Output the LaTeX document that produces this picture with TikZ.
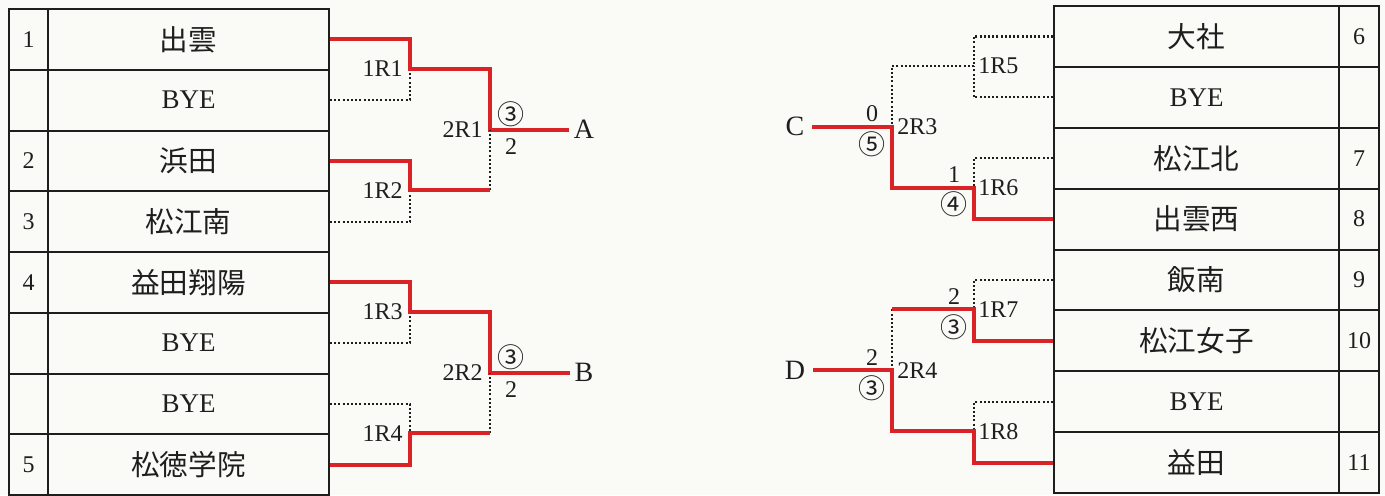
\documentclass[tikz,border=0pt]{standalone}
\usepackage{fontspec}
\setmainfont{Liberation Serif}
\newfontfamily\jp{Noto Sans CJK JP}
\definecolor{bred}{RGB}{218,35,38}
\definecolor{paper}{RGB}{250,250,246}
\definecolor{ink}{RGB}{30,30,30}
\begin{document}
\begin{tikzpicture}[x=0.5pt,y=-0.5pt,
  cellL/.style={draw=ink,line width=1pt,inner sep=0pt,anchor=north west,minimum height=30.375pt,text=ink},
  cellR/.style={draw=ink,line width=1pt,inner sep=0pt,anchor=north west,minimum height=30.44pt,text=ink},
  nameL/.style={cellL,minimum width=140.5pt},
  numL/.style={cellL,minimum width=19.5pt,font=\fontsize{12pt}{13pt}\selectfont},
  nameR/.style={cellR,minimum width=142.5pt},
  numR/.style={cellR,minimum width=20pt,font=\fontsize{12pt}{13pt}\selectfont},
  jpn/.style={font=\jp\fontsize{14.3pt}{16pt}\selectfont},
  bye/.style={font=\fontsize{13.5pt}{15pt}\selectfont},
  win/.style={draw=bred,line width=2pt},
  lose/.style={draw=ink,line width=1.1pt,dash pattern=on 1pt off 1.1pt},
  rlbl/.style={inner sep=0pt,text=ink,font=\fontsize{12pt}{13pt}\selectfont},
  score/.style={inner sep=0pt,text=ink,font=\fontsize{12pt}{13pt}\selectfont},
  circ/.style={inner sep=0pt,text=ink,font=\jp\fontsize{13.5pt}{15pt}\selectfont},
  letter/.style={text=ink,font=\fontsize{14pt}{15pt}\selectfont}
]
\fill[paper] (0,0) rectangle (1385,495);
\useasboundingbox (0,0) rectangle (1385,495);

% ---- left table ----
\node[numL] (NL1) at (8,8) {1};
\node[nameL,jpn] (L1) at (47,8) {出雲};
\node[numL] (NL2) at (8,68.75) {};
\node[nameL,bye] (L2) at (47,68.75) {BYE};
\node[numL] (NL3) at (8,129.5) {2};
\node[nameL,jpn] (L3) at (47,129.5) {浜田};
\node[numL] (NL4) at (8,190.25) {3};
\node[nameL,jpn] (L4) at (47,190.25) {松江南};
\node[numL] (NL5) at (8,251) {4};
\node[nameL,jpn] (L5) at (47,251) {益田翔陽};
\node[numL] (NL6) at (8,311.75) {};
\node[nameL,bye] (L6) at (47,311.75) {BYE};
\node[numL] (NL7) at (8,372.5) {};
\node[nameL,bye] (L7) at (47,372.5) {BYE};
\node[numL] (NL8) at (8,433.25) {5};
\node[nameL,jpn] (L8) at (47,433.25) {松徳学院};

% ---- right table ----
\node[nameR,jpn] (R1) at (1053,5) {大社};
\node[numR] (NR1) at (1338,5) {6};
\node[nameR,bye] (R2) at (1053,65.875) {BYE};
\node[numR] (NR2) at (1338,65.875) {};
\node[nameR,jpn] (R3) at (1053,126.75) {松江北};
\node[numR] (NR3) at (1338,126.75) {7};
\node[nameR,jpn] (R4) at (1053,187.625) {出雲西};
\node[numR] (NR4) at (1338,187.625) {8};
\node[nameR,jpn] (R5) at (1053,248.5) {飯南};
\node[numR] (NR5) at (1338,248.5) {9};
\node[nameR,jpn] (R6) at (1053,309.375) {松江女子};
\node[numR] (NR6) at (1338,309.375) {10};
\node[nameR,bye] (R7) at (1053,370.25) {BYE};
\node[numR] (NR7) at (1338,370.25) {};
\node[nameR,jpn] (R8) at (1053,431.125) {益田};
\node[numR] (NR8) at (1338,431.125) {11};

% ---- junctions ----
\coordinate (j1) at (410,68.75);
\coordinate (j2) at (410,190.25);
\coordinate (j3) at (410,311.75);
\coordinate (j4) at (410,433.25);
\coordinate (k1) at (490,129.5);
\coordinate (k2) at (490,372.5);
\coordinate (r5) at (974,65.875);
\coordinate (r6) at (974,187.625);
\coordinate (r7) at (974,309.375);
\coordinate (r8) at (974,431.125);
\coordinate (s3) at (892,126.75);
\coordinate (s4) at (892,370.25);

% ---- end letters ----
\node[letter,inner sep=2pt] (A) at (584,129.5) {A};
\node[letter,inner sep=2pt] (B) at (584,372.5) {B};
\node[letter,inner sep=3.5pt] (C) at (795,126.75) {C};
\node[letter,inner sep=3.5pt] (D) at (795,370.25) {D};

% ---- left bracket ----
\draw[lose] (L2.east) -| (j1);
\draw[win] (L1.east) -| (j1) -| (k1) -- (A.west);
\draw[lose] (L4.east) -| (j2);
\draw[lose] (j2 -| k1) -- (k1);
\draw[win] (L3.east) -| (j2) -- (j2 -| k1);
\draw[lose] (L6.east) -| (j3);
\draw[win] (L5.east) -| (j3) -| (k2) -- (B.west);
\draw[lose] (L7.east) -| (j4);
\draw[lose] (j4 -| k2) -- (k2);
\draw[win] (L8.east) -| (j4) -- (j4 -| k2);

% ---- right bracket ----
\draw[lose] (R1.west) -| (r5);
\draw[lose] (R2.west) -| (r5);
\draw[lose] (r5) -| (s3);
\draw[lose] (R3.west) -| (r6);
\draw[win] (R4.west) -| (r6) -| (s3) -- (C.east);
\draw[lose] (R5.west) -| (r7);
\draw[lose] (r7 -| s4) -- (s4);
\draw[win] (R6.west) -| (r7) -- (r7 -| s4);
\draw[lose] (R7.west) -| (r8);
\draw[win] (R8.west) -| (r8) -| (s4) -- (D.east);

% ---- match labels ----
\node[rlbl,anchor=east] (m1) at ([xshift=-3.5pt]j1) {1R1};
\node[rlbl,anchor=east] (m2) at ([xshift=-3.5pt]j2) {1R2};
\node[rlbl,anchor=east] (m3) at ([xshift=-3.5pt]j3) {1R3};
\node[rlbl,anchor=east] (m4) at ([xshift=-3.5pt]j4) {1R4};
\node[rlbl,anchor=east] (n1) at ([xshift=-3.5pt]k1) {2R1};
\node[rlbl,anchor=east] (n2) at ([xshift=-3.5pt]k2) {2R2};
\node[rlbl,anchor=west] (m5) at ([xshift=2pt]r5) {1R5};
\node[rlbl,anchor=west] (m6) at ([xshift=2pt]r6) {1R6};
\node[rlbl,anchor=west] (m7) at ([xshift=2pt]r7) {1R7};
\node[rlbl,anchor=west] (m8) at ([xshift=2pt]r8) {1R8};
\node[rlbl,anchor=west] (n3) at ([xshift=2.5pt]s3) {2R3};
\node[rlbl,anchor=west] (n4) at ([xshift=2.5pt]s4) {2R4};

% ---- scores ----
\node[circ] (c1) at ([xshift=10.5pt,yshift=7.5pt]k1) {③};
\node[score] (t1) at ([xshift=10.5pt,yshift=-8.5pt]k1) {2};
\node[circ] (c2) at ([xshift=10.5pt,yshift=7.5pt]k2) {③};
\node[score] (t2) at ([xshift=10.5pt,yshift=-8.5pt]k2) {2};
\node[score] (t3) at ([xshift=-10pt,yshift=6.5pt]s3) {0};
\node[circ] (c3) at ([xshift=-10pt,yshift=-8.5pt]s3) {⑤};
\node[score] (t6) at ([xshift=-10pt,yshift=6.5pt]r6) {1};
\node[circ] (c6) at ([xshift=-10pt,yshift=-8.5pt]r6) {④};
\node[score] (t7) at ([xshift=-10pt,yshift=6.5pt]r7) {2};
\node[circ] (c7) at ([xshift=-10pt,yshift=-9pt]r7) {③};
\node[score] (t4) at ([xshift=-10pt,yshift=6.5pt]s4) {2};
\node[circ] (c4) at ([xshift=-10pt,yshift=-9pt]s4) {③};
\end{tikzpicture}
\end{document}
